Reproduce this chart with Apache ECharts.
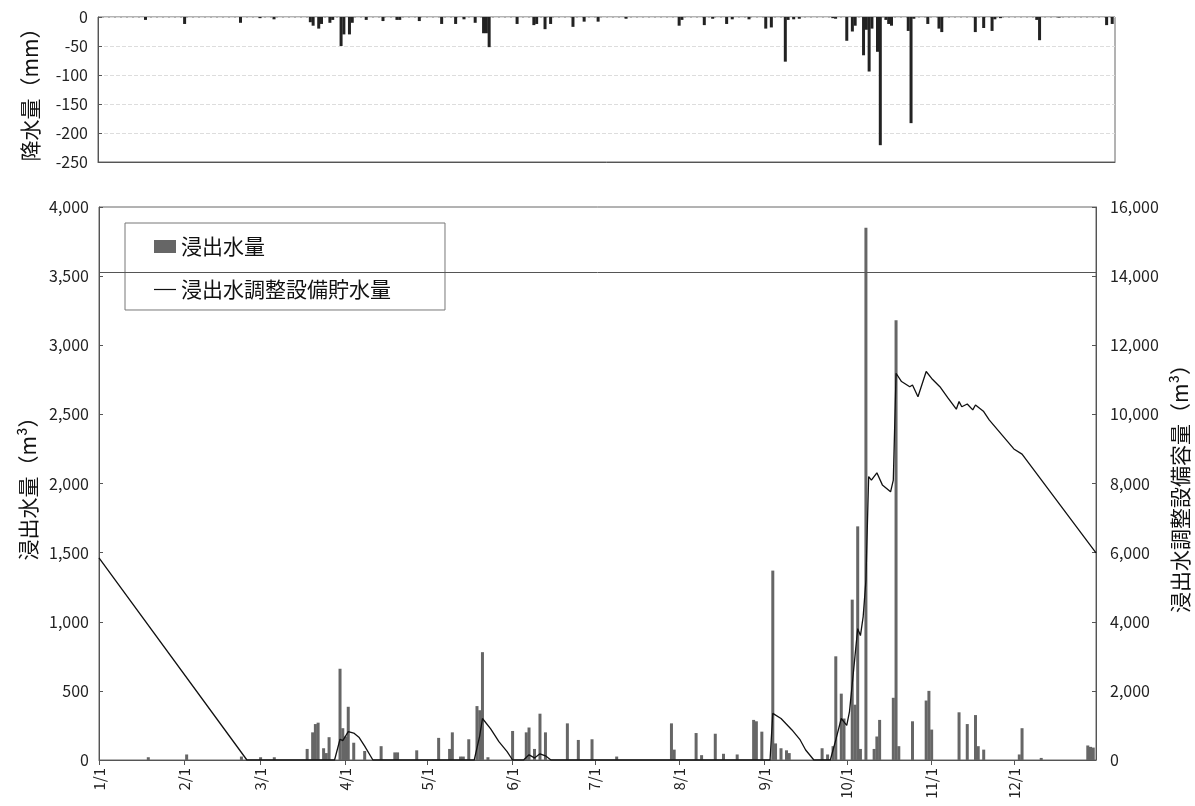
<!DOCTYPE html>
<html>
<head>
<meta charset="utf-8">
<script src="https://cdn.jsdelivr.net/npm/echarts@6/dist/echarts.min.js"></script>
<style>
  html, body { margin: 0; background: #fff; }
  #chart { width: 1195px; height: 806px; }
</style>
</head>
<body>
<div id="chart"></div>
<script>
// 日付カテゴリ (1/1 〜 12/31)
const monthDays = [31, 28, 31, 30, 31, 30, 31, 31, 30, 31, 30, 31]
const days = []
monthDays.forEach((n, m) => {
  for (let d = 1; d <= n; d++) days.push((m + 1) + '/' + d)
})
const monthLabels = ['1/1', '2/1', '3/1', '4/1', '5/1', '6/1', '7/1', '8/1', '9/1', '10/1', '11/1', '12/1']

// 降水量 (mm)
const rainfall = [
  ['1/18', -5], ['2/1', -12], ['2/21', -10], ['2/28', -2], ['3/5', -4],
  ['3/18', -9], ['3/19', -15], ['3/21', -20], ['3/22', -12], ['3/25', -10], ['3/26', -5],
  ['3/29', -50], ['3/30', -30], ['4/1', -30], ['4/2', -10], ['4/7', -5], ['4/13', -7],
  ['4/18', -5], ['4/19', -5], ['4/26', -7], ['5/4', -12], ['5/9', -12], ['5/12', -4],
  ['5/16', -10], ['5/19', -28], ['5/20', -28], ['5/21', -52], ['5/31', -12],
  ['6/6', -14], ['6/7', -12], ['6/10', -21], ['6/12', -12], ['6/20', -17], ['6/24', -8],
  ['6/29', -8], ['7/9', -3], ['7/28', -15], ['7/29', -5], ['8/6', -14], ['8/9', -3],
  ['8/14', -12], ['8/16', -4], ['8/22', -4], ['8/28', -20], ['8/30', -18], ['9/4', -77],
  ['9/5', -5], ['9/7', -4], ['9/9', -3], ['9/21', -2], ['9/22', -3], ['9/26', -41],
  ['9/28', -25], ['9/29', -15], ['10/2', -66], ['10/3', -22], ['10/4', -94], ['10/5', -20],
  ['10/7', -60], ['10/8', -221], ['10/10', -5], ['10/11', -12], ['10/12', -15],
  ['10/18', -24], ['10/19', -183], ['10/20', -3], ['10/25', -12], ['10/29', -20],
  ['10/30', -26], ['11/11', -26], ['11/14', -19], ['11/17', -24], ['11/18', -4],
  ['11/20', -2], ['12/3', -5], ['12/4', -40], ['12/11', -1], ['12/28', -14], ['12/30', -12]
]

// 浸出水量 (m3)
const leachate = [
  ['1/19', 20], ['2/2', 40], ['2/22', 25], ['3/1', 20], ['3/6', 20],
  ['3/18', 80], ['3/20', 200], ['3/21', 260], ['3/22', 270], ['3/24', 85], ['3/25', 50],
  ['3/26', 165], ['3/30', 660], ['3/31', 230], ['4/1', 170], ['4/2', 385], ['4/4', 125],
  ['4/8', 65], ['4/14', 100], ['4/19', 55], ['4/20', 55], ['4/27', 70], ['5/5', 160],
  ['5/9', 80], ['5/10', 200], ['5/13', 25], ['5/14', 25], ['5/16', 150], ['5/19', 390],
  ['5/20', 360], ['5/21', 780], ['5/23', 20], ['6/1', 210], ['6/6', 200], ['6/7', 235],
  ['6/9', 80], ['6/11', 335], ['6/13', 200], ['6/21', 265], ['6/25', 145], ['6/30', 150],
  ['7/9', 25], ['7/29', 265], ['7/30', 75], ['8/7', 195], ['8/9', 35], ['8/14', 190],
  ['8/17', 45], ['8/22', 40], ['8/28', 290], ['8/29', 280], ['8/31', 205], ['9/4', 1370],
  ['9/5', 120], ['9/7', 85], ['9/9', 70], ['9/10', 50], ['9/22', 85], ['9/24', 40],
  ['9/26', 100], ['9/27', 750], ['9/29', 480], ['9/30', 300], ['10/3', 1160], ['10/4', 400],
  ['10/5', 1690], ['10/6', 80], ['10/8', 3850], ['10/11', 80], ['10/12', 170], ['10/13', 290],
  ['10/18', 450], ['10/19', 3180], ['10/20', 100], ['10/25', 280], ['10/30', 430],
  ['10/31', 500], ['11/1', 220], ['11/11', 345], ['11/14', 260], ['11/17', 325],
  ['11/18', 100], ['11/20', 75], ['12/3', 40], ['12/4', 230], ['12/11', 15],
  ['12/28', 105], ['12/29', 95], ['12/30', 90]
]

// 浸出水調整設備貯水量 (m3)
const storage = [
  ['1/1', 5850], ['2/24', 0], ['3/28', 0], ['3/30', 600], ['3/31', 560], ['4/2', 820],
  ['4/4', 780], ['4/6', 650], ['4/8', 400], ['4/11', 0], ['5/18', 0], ['5/20', 700],
  ['5/21', 1200], ['5/24', 900], ['5/27', 530], ['5/30', 240], ['6/1', 0], ['6/5', 0],
  ['6/7', 150], ['6/9', 60], ['6/11', 180], ['6/13', 120], ['6/15', 0], ['9/3', 0],
  ['9/4', 1350], ['9/7', 1200], ['9/11', 870], ['9/14', 580], ['9/16', 290], ['9/19', 0],
  ['9/25', 0], ['9/27', 580], ['9/29', 1200], ['10/1', 1000], ['10/2', 1400],
  ['10/4', 3000], ['10/5', 3800], ['10/6', 3600], ['10/7', 4150], ['10/8', 5200],
  ['10/9', 8200], ['10/10', 8100], ['10/12', 8310], ['10/14', 7960], ['10/17', 7760],
  ['10/18', 8100], ['10/19', 11190], ['10/21', 10950], ['10/24', 10800], ['10/25', 10850],
  ['10/27', 10510], ['10/30', 11240], ['11/1', 11040], ['11/4', 10800], ['11/7', 10470],
  ['11/10', 10150], ['11/11', 10370], ['11/12', 10220], ['11/14', 10300], ['11/16', 10130],
  ['11/17', 10270], ['11/20', 10080], ['11/22', 9840], ['12/1', 9000], ['12/4', 8850],
  ['12/31', 5990]
]

const font = "'Noto Sans CJK JP', sans-serif"
const isMonthStart = (i, v) => monthLabels.includes(v)

const myChart = echarts.init(document.getElementById('chart'))

const option = {
  animation: false,
  textStyle: { fontFamily: font },
  legend: {
    orient: 'vertical',
    left: 125,
    top: 223,
    padding: [13, 54, 10, 29],
    itemGap: 22,
    itemWidth: 22,
    itemHeight: 13,
    backgroundColor: '#fff',
    borderColor: '#777',
    borderWidth: 1,
    textStyle: { fontSize: 21, color: '#111', fontFamily: font },
    data: [
      { name: '浸出水量', icon: 'rect' },
      { name: '浸出水調整設備貯水量', icon: 'path://M0,0 H22 V1.2 H0 Z', itemStyle: { color: '#111' } }
    ]
  },
  grid: [
    { left: 98, right: 80, top: 17, height: 145, show: true, borderColor: '#666', borderWidth: 1, outerBoundsMode: 'none' },
    { left: 99, right: 99, top: 207, bottom: 46, show: true, borderColor: '#666', borderWidth: 1, outerBoundsMode: 'none' }
  ],
  xAxis: [
    {
      gridIndex: 0,
      type: 'category',
      data: days,
      boundaryGap: false,
      axisLine: { show: true, onZero: false, lineStyle: { color: '#555' } },
      axisTick: { show: false },
      axisLabel: { show: false }
    },
    {
      gridIndex: 1,
      type: 'category',
      data: days,
      boundaryGap: false,
      axisLine: { lineStyle: { color: '#555' } },
      axisTick: { interval: isMonthStart, length: 5, lineStyle: { color: '#555' } },
      axisLabel: { interval: isMonthStart, rotate: 90, fontSize: 15, color: '#222', margin: 8 }
    }
  ],
  yAxis: [
    {
      gridIndex: 0,
      type: 'value',
      min: -250,
      max: 0,
      interval: 50,
      name: '降水量（mm）',
      nameLocation: 'middle',
      nameGap: 57,
      nameTextStyle: { fontSize: 21, color: '#111' },
      axisLine: { show: true, lineStyle: { color: '#555' } },
      axisTick: { show: true, inside: true, length: 4 },
      axisLabel: { fontSize: 16, color: '#222', margin: 10 },
      splitLine: { lineStyle: { color: '#ddd', type: 'dashed' } }
    },
    {
      gridIndex: 1,
      type: 'value',
      min: 0,
      max: 4000,
      interval: 500,
      name: '浸出水量（m³）',
      nameLocation: 'middle',
      nameGap: 58,
      nameTextStyle: { fontSize: 21, color: '#111' },
      axisLine: { show: true, lineStyle: { color: '#555' } },
      axisTick: { show: true, inside: true, length: 4 },
      axisLabel: { fontSize: 16, color: '#222', margin: 10, formatter: v => v.toLocaleString('en-US') },
      splitLine: { show: false }
    },
    {
      gridIndex: 1,
      type: 'value',
      position: 'right',
      min: 0,
      max: 16000,
      interval: 2000,
      name: '浸出水調整設備容量（m³）',
      nameLocation: 'middle',
      nameGap: 71,
      nameTextStyle: { fontSize: 21, color: '#111' },
      axisLine: { show: true, lineStyle: { color: '#555' } },
      axisTick: { show: true, inside: true, length: 4 },
      axisLabel: { fontSize: 16, color: '#222', margin: 14, formatter: v => v.toLocaleString('en-US') },
      splitLine: { show: false }
    }
  ],
  series: [
    {
      name: '降水量',
      type: 'bar',
      xAxisIndex: 0,
      yAxisIndex: 0,
      barWidth: 3,
      itemStyle: { color: '#222' },
      data: rainfall
    },
    {
      name: '浸出水量',
      type: 'bar',
      xAxisIndex: 1,
      yAxisIndex: 1,
      barWidth: 3,
      itemStyle: { color: '#666' },
      data: leachate,
      markLine: {
        silent: true,
        symbol: 'none',
        label: { show: false },
        lineStyle: { color: '#555', width: 1, type: 'solid' },
        data: [{ yAxis: 3525 }]
      }
    },
    {
      name: '浸出水調整設備貯水量',
      type: 'line',
      xAxisIndex: 1,
      yAxisIndex: 2,
      symbol: 'none',
      itemStyle: { color: '#111' },
      lineStyle: { color: '#111', width: 1.3 },
      data: storage
    }
  ]
}

myChart.setOption(option)
window.addEventListener('resize', () => myChart.resize())
</script>
</body>
</html>
